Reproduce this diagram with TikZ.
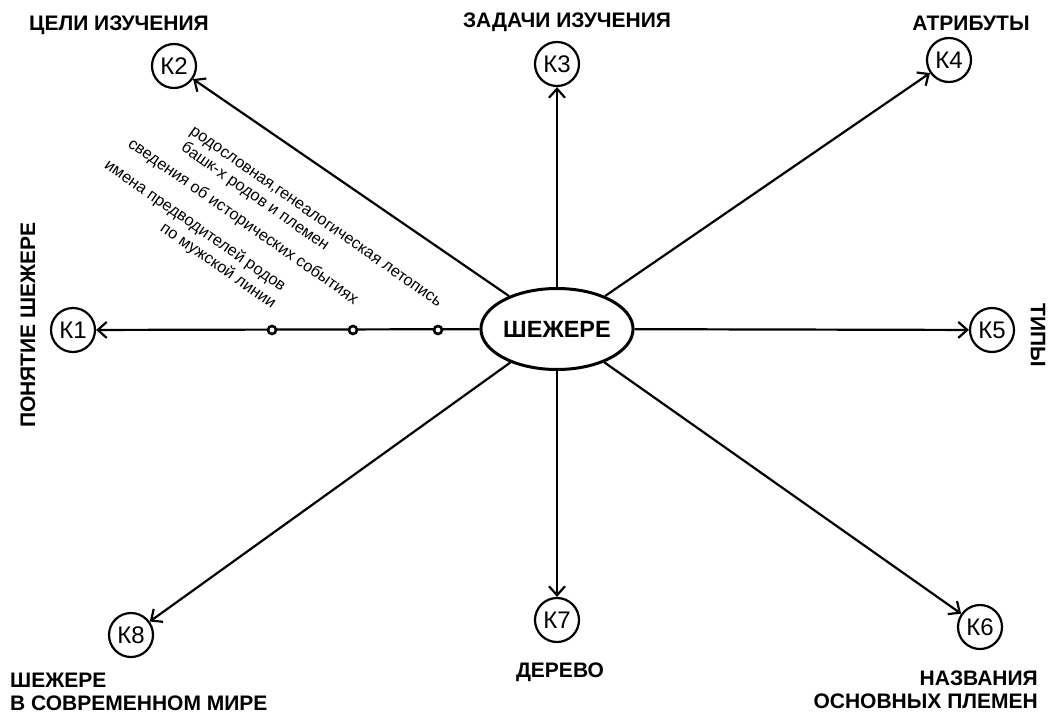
\documentclass[tikz,border=0pt]{standalone}
\usepackage{fontspec}
\setmainfont{Liberation Sans}
\usetikzlibrary{arrows.meta,shapes.geometric}
\begin{document}
\begin{tikzpicture}[x=1pt,y=-1pt,
  kc/.style={circle,draw,line width=2.2pt,minimum size=44pt,inner sep=0pt,font=\fontsize{24}{26}\selectfont},
  hub/.style={ellipse,draw,line width=3pt,minimum width=148pt,minimum height=81pt,inner sep=0pt,font=\bfseries\fontsize{23.5}{26}\selectfont},
  ttl/.style={font=\bfseries\fontsize{21}{23}\selectfont,inner sep=0pt},
  note/.style={font=\fontsize{16.3}{18}\selectfont,inner sep=0pt,rotate=-35},
  conn/.style={line width=2.2pt,-{Straight Barb[length=9pt,width=16pt,line width=2.2pt]}},
  dot/.style={circle,draw,line width=2.6pt,minimum size=8pt,inner sep=0pt,fill=white}
]
\useasboundingbox (0,0) rectangle (1052,715);
\node[hub] (h) at (557,329) {ШЕЖЕРЕ};
\node[kc] (k1) at (73,330) {К1};
\node[kc] (k2) at (174,66) {К2};
\node[kc] (k3) at (557,64) {К3};
\node[kc] (k4) at (949,60) {К4};
\node[kc] (k5) at (992,330) {К5};
\node[kc] (k6) at (980,627) {К6};
\node[kc] (k7) at (557,620) {К7};
\node[kc] (k8) at (131,635) {К8};
\foreach \k in {k1,k2,k3,k4,k5,k6,k7,k8} \draw[conn] (h) -- (\k);
\node[dot] (d1) at (272,330) {};
\node[dot] (d2) at (353,330) {};
\node[dot] (d3) at (438,330) {};
\node[ttl] (t1) at (28,325) [rotate=90] {ПОНЯТИЕ ШЕЖЕРЕ};
\node[ttl] (t2) at (119,25) {ЦЕЛИ ИЗУЧЕНИЯ};
\node[ttl] (t3) at (567,22) {ЗАДАЧИ ИЗУЧЕНИЯ};
\node[ttl] (t4) at (971,23) {АТРИБУТЫ};
\node[ttl] (t5) at (1038,335) [rotate=-90] {ТИПЫ};
\node[ttl,align=right,anchor=east] (t6) at (1038,689.5) {НАЗВАНИЯ\\ОСНОВНЫХ ПЛЕМЕН};
\node[ttl] (t7) at (560,672) {ДЕРЕВО};
\node[ttl,align=left,anchor=west] (t8) at (10,691.5) {ШЕЖЕРЕ\\В СОВРЕМЕННОМ МИРЕ};
\node[note] (n1) at (315,218) {родословная,генеалогическая летопись};
\node[note] (n2) at (255,197) {башк-х родов и племен};
\node[note] (n3) at (243,222) {сведения об исторических событиях};
\node[note] (n4) at (195,226) {имена предводителей родов};
\node[note] (n5) at (218,266) {по мужской линии};
\end{tikzpicture}
\end{document}
